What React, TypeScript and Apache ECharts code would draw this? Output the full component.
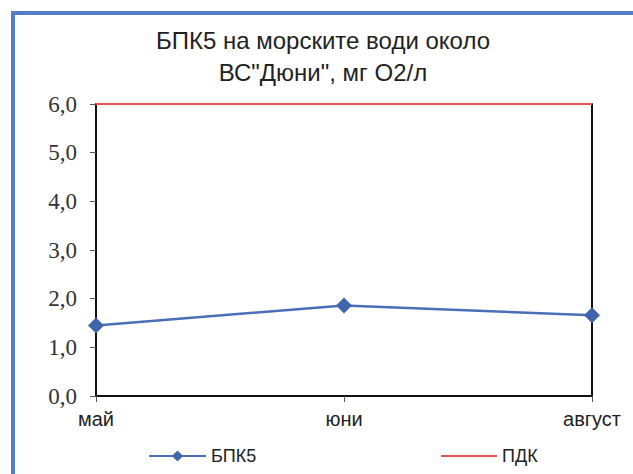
import React, { useEffect, useRef } from "react";
import * as echarts from "echarts";

const months = ["май", "юни", "август"];
const bpk5 = [1.45, 1.86, 1.66];
const pdk = [6.0, 6.0, 6.0];
const titleLines = ["БПК5 на морските води около", "ВС\"Дюни\", мг О2/л"];

export default function App() {
  const ref = useRef<HTMLDivElement>(null);
  useEffect(() => {
    if (!ref.current) return;
    const chart = echarts.init(ref.current, null, { renderer: "svg" });
    const legendText = { fontFamily: "Liberation Sans", fontSize: 18, color: "#222" };
    chart.setOption({
      animation: false,
      backgroundColor: "#ffffff",
      title: {
        text: titleLines.join("\n"),
        left: 318,
        textAlign: "center",
        top: 19,
        textStyle: {
          fontFamily: "Liberation Sans",
          fontSize: 24,
          fontWeight: "normal",
          color: "#222",
          lineHeight: 32,
        },
      },
      graphic: [
        { type: "rect", shape: { x: 11, y: 11, width: 622, height: 4 }, style: { fill: "#4f7fc9" } },
        { type: "rect", shape: { x: 11, y: 11, width: 4, height: 463 }, style: { fill: "#4f7fc9" } },
      ],
      legend: [
        {
          left: 143,
          top: 442,
          itemWidth: 57,
          itemHeight: 14,
          itemGap: 5,
          textStyle: legendText,
          data: ["БПК5"],
        },
        {
          left: 436,
          top: 442,
          itemWidth: 56,
          itemHeight: 2,
          icon: "rect",
          textStyle: legendText,
          data: ["ПДК"],
        },
      ],
      grid: { left: 96, right: 41, top: 104, bottom: 78 },
      xAxis: {
        type: "category",
        data: months,
        boundaryGap: false,
        axisLine: { lineStyle: { color: "#111", width: 2 } },
        axisTick: { show: true, alignWithLabel: true, length: 6, lineStyle: { color: "#555" } },
        axisLabel: { fontFamily: "Liberation Sans", fontSize: 20, color: "#222", margin: 13 },
        splitLine: { show: false },
      },
      yAxis: [
        {
          type: "value",
          min: 0,
          max: 6,
          interval: 1,
          axisLine: { show: true, lineStyle: { color: "#111", width: 2 } },
          axisTick: { show: true, length: 6, lineStyle: { color: "#555" } },
          axisLabel: {
            fontFamily: "Liberation Serif",
            fontSize: 23,
            color: "#333",
            margin: 19,
            formatter: (v: number) => v.toFixed(1).replace(".", ","),
          },
          splitLine: { show: false },
        },
        {
          type: "value",
          min: 0,
          max: 6,
          interval: 1,
          position: "right",
          axisLine: { show: true, lineStyle: { color: "#111", width: 2 } },
          axisTick: { show: false },
          axisLabel: { show: false },
          splitLine: { show: false },
        },
      ],
      series: [
        {
          name: "ПДК",
          type: "line",
          data: pdk,
          symbol: "none",
          lineStyle: { color: "#e05252", width: 2 },
          itemStyle: { color: "#e05252" },
          z: 3,
        },
        {
          name: "БПК5",
          type: "line",
          data: bpk5,
          symbol: "diamond",
          symbolSize: 16,
          lineStyle: { color: "#4a6fb8", width: 2.5 },
          itemStyle: { color: "#3f65ad" },
          z: 4,
        },
      ],
    });
    return () => chart.dispose();
  }, []);
  return <div ref={ref} style={{ width: 633, height: 474, position: "absolute", left: 0, top: 0 }} />;
}
